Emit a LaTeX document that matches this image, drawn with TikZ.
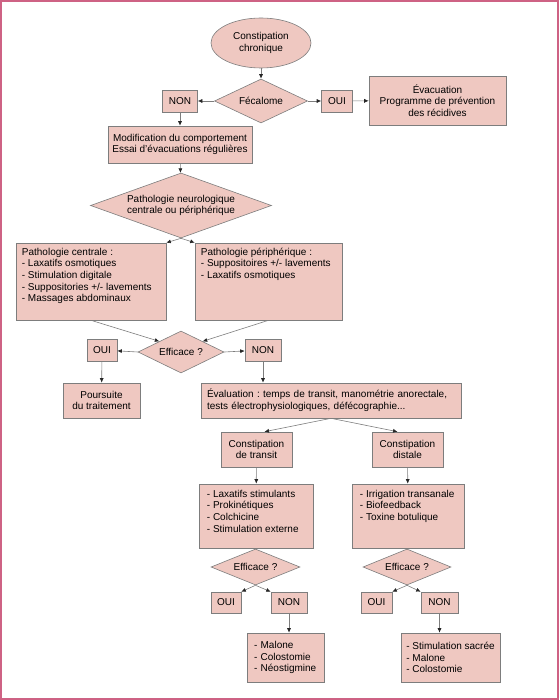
\documentclass[tikz,border=0pt]{standalone}
\usepackage{fontspec}
\setmainfont{Liberation Sans}
\usepackage{tikz}
\usetikzlibrary{arrows.meta}
\usetikzlibrary{calc,positioning}
\usetikzlibrary{shapes.geometric}

\definecolor{boxfill}{RGB}{239,200,193}
\definecolor{boxline}{RGB}{125,125,125}
\definecolor{framecol}{RGB}{206,98,132}
\newcommand{\fttxt}{\fontsize{10}{11.7}\selectfont}
\frenchspacing

\begin{document}
\begin{tikzpicture}[x=1pt, y=-1pt, box/.style={rectangle, draw=boxline, fill=boxfill, line width=0.6pt, inner sep=2pt, font=\fttxt, align=center}, dec/.style={diamond, draw=boxline, fill=boxfill, line width=0.6pt, inner sep=0pt, font=\fttxt, align=center}, oval/.style={ellipse, draw=boxline, fill=boxfill, line width=0.6pt, inner sep=0pt, font=\fttxt, align=center}, lst/.style={anchor=north west, inner sep=0pt, font=\fttxt, align=left}, arr/.style={draw=boxline, line width=0.6pt, -{Latex[length=4.5pt,width=4pt,color=black!85]}}]
		\useasboundingbox (0,0) rectangle (559,700);
		\draw[framecol, line width=1.5pt] (1,1) rectangle (558,699);

		% top
		\node[oval, minimum width=100, minimum height=50] (chron) at (261,43) {Constipation\\chronique};
		\node[dec, shape aspect=2.1, minimum width=93, minimum height=44] (fecal) at (261,101) {Fécalome};
		\node[box, minimum width=35, minimum height=22] (non1) at (180,101) {NON};
		\node[box, minimum width=31, minimum height=22] (oui1) at (337,101) {OUI};
		\node[box, minimum width=137, minimum height=49] (evac) at (437.5,100.5) {Évacuation\\Programme de prévention\\des récidives};
		\node[box, minimum width=144, minimum height=37] (modif) at (180,144.5) {Modification du comportement\\Essai d’évacuations régulières};
		\node[dec, shape aspect=2.8, minimum width=181, minimum height=65] (neuro) at (181,205.5) {Pathologie neurologique\\centrale ou périphérique};

		% pathologies
		\node[box, minimum width=150, minimum height=77] (pcen) at (91,281.5) {};
		\node[lst] (pcentxt) at ([shift={(6,5)}]pcen.north west) {Pathologie centrale :\\- Laxatifs osmotiques\\- Stimulation digitale\\- Suppositories +/- lavements\\- Massages abdominaux};
		\node[box, minimum width=147, minimum height=77] (pper) at (268.5,281.5) {};
		\node[lst] (ppertxt) at ([shift={(6,5)}]pper.north west) {Pathologie périphérique :\\- Suppositoires +/- lavements\\- Laxatifs osmotiques};

		\node[dec, shape aspect=2.05, minimum width=86, minimum height=42] (eff1) at (181,352) {Efficace ?};
		\node[box, minimum width=30, minimum height=22] (oui2) at (102,350) {OUI};
		\node[box, minimum width=36, minimum height=22] (non2) at (263,350) {NON};
		\node[box, minimum width=77, minimum height=35] (pours) at (101.5,400.5) {Poursuite\\du traitement};
		\node[box, minimum width=260, minimum height=35, text width=248, align=left] (eval) at (331,400.5) {Évaluation : temps de transit, manométrie anorectale,\\tests électrophysiologiques, défécographie...};

		% transit / distale
		\node[box, minimum width=71, minimum height=35] (trans) at (256.5,449.5) {Constipation\\de transit};
		\node[box, minimum width=71, minimum height=35] (dist) at (407.5,449.5) {Constipation\\distale};
		\node[box, minimum width=114, minimum height=64] (laxa) at (256,516) {};
		\node[lst] (laxatxt) at ([shift={(8,6)}]laxa.north west) {- Laxatifs stimulants\\- Prokinétiques\\- Colchicine\\- Stimulation externe};
		\node[box, minimum width=112, minimum height=64] (irri) at (408,516) {};
		\node[lst] (irritxt) at ([shift={(8,6)}]irri.north west) {- Irrigation transanale\\- Biofeedback\\- Toxine botulique};

		\node[dec, shape aspect=2.5, minimum width=89, minimum height=36] (eff2) at (255.5,567) {Efficace ?};
		\node[dec, shape aspect=2.5, minimum width=88, minimum height=36] (eff3) at (407,567) {Efficace ?};
		\node[box, minimum width=30, minimum height=21] (oui3) at (226,602.5) {OUI};
		\node[box, minimum width=36, minimum height=21] (non3) at (289,602.5) {NON};
		\node[box, minimum width=31, minimum height=21] (oui4) at (376.5,602.5) {OUI};
		\node[box, minimum width=37, minimum height=21] (non4) at (439.5,602.5) {NON};
		\node[box, minimum width=77, minimum height=49, text width=63, align=left] (malo) at (285.5,657.5) {- Malone\\- Colostomie\\- Néostigmine};
		\node[box, minimum width=99, minimum height=49, align=left] (sacr) at (450.5,657.5) {- Stimulation sacrée\\- Malone\\- Colostomie};

		% connectors
		\draw[arr] (chron) -- (fecal);
		\draw[arr] (fecal.west) -- (non1);
		\draw[arr] (fecal.east) -- (oui1);
		\draw[arr] (oui1) -- (evac);
		\draw[arr] (non1) -- (modif);
		\draw[arr] (modif) -- (neuro);
		\draw[arr] (neuro.south) -- (pcen.north east);
		\draw[arr] (neuro.south) -- (pper.north west);
		\draw[arr] (pcen.south) -- (eff1.north west);
		\draw[arr] (pper.south) -- (eff1.north east);
		\draw[arr] (eff1.west) -- (oui2);
		\draw[arr] (eff1.east) -- (non2);
		\draw[arr] (oui2) -- (pours);
		\draw[arr] (non2.south) -- (non2.south |- eval.north);
		\draw[arr] (eval.south) -- ([xshift=8pt]trans.north);
		\draw[arr] (eval.south) -- ([xshift=-10pt]dist.north);
		\draw[arr] (trans) -- (laxa);
		\draw[arr] (dist) -- (irri);
		\draw[arr] (eff2.south) -- (oui3.north east);
		\draw[arr] (eff2.south) -- (non3.north west);
		\draw[arr] (eff3.south) -- (oui4.north east);
		\draw[arr] (eff3.south) -- (non4.north west);
		\draw[arr] (non3.south) -- (non3.south |- malo.north);
		\draw[arr] (non4.south) -- (non4.south |- sacr.north);
	\end{tikzpicture}
\end{document}
